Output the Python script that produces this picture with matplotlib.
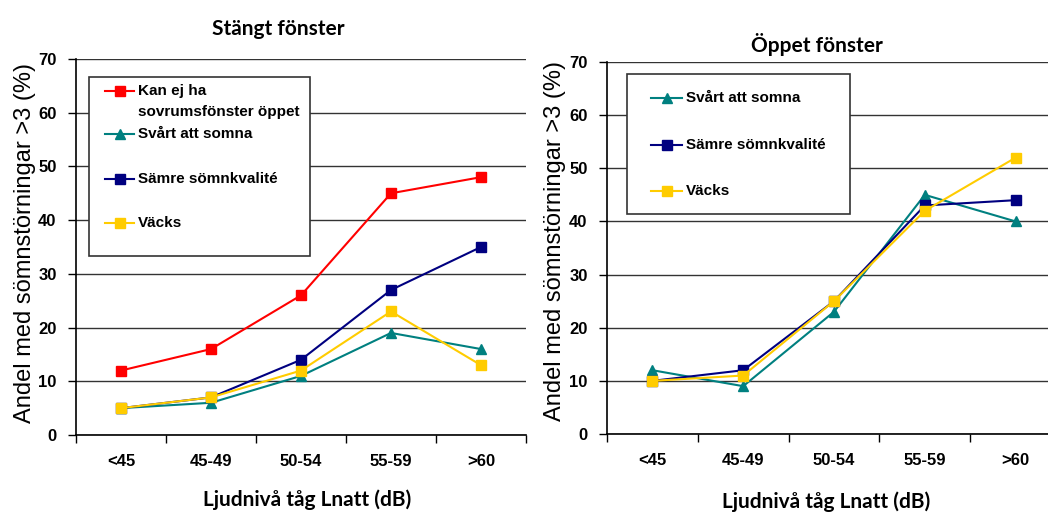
import matplotlib
matplotlib.use('Agg')
import matplotlib.pyplot as plt
from matplotlib.lines import Line2D
from matplotlib.patches import Rectangle

plt.rcParams['font.family'] = ['Liberation Sans', 'DejaVu Sans']

# data
categories = ['<45', '45-49', '50-54', '55-59', '>60']

closed_kan_ej = [12, 16, 26, 45, 48]
closed_svart = [5, 6, 11, 19, 16]
closed_samre = [5, 7, 14, 27, 35]
closed_vacks = [5, 7, 12, 23, 13]

open_svart = [12, 9, 23, 45, 40]
open_samre = [10, 12, 25, 43, 44]
open_vacks = [10, 11, 25, 42, 52]

yticks = [0, 10, 20, 30, 40, 50, 60, 70]

RED = '#FF0000'
TEAL = '#008080'
NAVY = '#000080'
YELLOW = '#FFCC00'

W, H = 1048, 522
TITLE_FONT = ['Lato', 'DejaVu Sans']
MS = 7


def style_axes(ax, xlab_xy, ylab_xy):
    ax.set_xlim(-0.5, len(categories) - 0.5)
    ax.set_ylim(0, 70)
    ax.set_yticks(yticks)
    ax.set_yticklabels([str(t) for t in yticks], fontsize=12, fontweight='bold')
    ax.set_xticks(list(range(len(categories))))
    ax.set_xticklabels(categories, fontsize=12, fontweight='bold')
    ax.tick_params(axis='x', length=0, pad=14)
    # category boundary ticks below the axis (excel style)
    ax.set_xticks([i - 0.5 for i in range(len(categories) + 1)], minor=True)
    ax.tick_params(axis='x', which='minor', length=6, direction='out', width=1)
    ax.tick_params(axis='y', length=6, direction='out', width=1, pad=8)
    for s in ['top', 'right']:
        ax.spines[s].set_visible(False)
    ax.spines['left'].set_linewidth(1.2)
    ax.spines['bottom'].set_linewidth(1.2)
    ax.yaxis.grid(True, color='#333333', linewidth=1)
    ax.set_axisbelow(True)
    ax.set_xlabel('Ljudnivå tåg Lnatt (dB)', fontsize=15, fontweight='bold',
                  family=TITLE_FONT)
    ax.xaxis.set_label_coords(*xlab_xy)
    ax.xaxis.label.set_va('center')
    ax.set_ylabel('Andel med sömnstörningar >3 (%)', fontsize=17)
    ax.yaxis.set_label_coords(*ylab_xy)
    ax.yaxis.label.set_va('center')


def px(x, y):
    return x / W, 1 - y / H


def draw_legend(fig, box, entries, hx0, hx1, tx):
    # box: (left, top, right, bottom) in pixels; entries: (line, label, y)
    l, t, r, b = box
    x0, y0 = px(l, b)
    x1, y1 = px(r, t)
    fig.patches.append(Rectangle((x0, y0), x1 - x0, y1 - y0, transform=fig.transFigure,
                                 facecolor='white', edgecolor='#333333', lw=1.2, zorder=5))
    for line, label, y in entries:
        yy = px(0, y)[1]
        fig.lines.append(Line2D([hx0 / W, hx1 / W], [yy, yy], transform=fig.transFigure,
                                color=line.get_color(), lw=1.5, zorder=6))
        fig.lines.append(Line2D([(hx0 + hx1) / 2 / W], [yy], transform=fig.transFigure,
                                color=line.get_color(), marker=line.get_marker(),
                                ms=MS, zorder=6))
        # multi-line labels: each line 21 px apart, handle on the first line
        for i, part in enumerate(label.split('\n')):
            fig.text(tx / W, px(0, y + 21 * i)[1], part, fontsize=11, fontweight='bold',
                     va='center', zorder=7)


fig = plt.figure(figsize=(10.48, 5.22), dpi=100)
ax1 = fig.add_axes([76 / W, 1 - 435 / H, 450 / W, 376 / H])
ax2 = fig.add_axes([607 / W, 1 - 434 / H, 454 / W, 372 / H])

x = range(len(categories))
l1 = ax1.plot(x, closed_kan_ej, color=RED, marker='s', ms=MS, lw=1.5)[0]
l2 = ax1.plot(x, closed_svart, color=TEAL, marker='^', ms=MS, lw=1.5)[0]
l3 = ax1.plot(x, closed_samre, color=NAVY, marker='s', ms=MS, lw=1.5)[0]
l4 = ax1.plot(x, closed_vacks, color=YELLOW, marker='s', ms=MS, lw=1.5)[0]
style_axes(ax1, ((307 - 76) / 450, (435 - 500) / 376), ((25 - 76) / 450, (435 - 243) / 376))
ax1.text((278 - 76) / 450, (435 - 29) / 376, 'Stängt fönster', fontsize=15, fontweight='bold',
         family=TITLE_FONT, ha='center', va='center', transform=ax1.transAxes)

r1 = ax2.plot(x, open_svart, color=TEAL, marker='^', ms=MS, lw=1.5)[0]
r2 = ax2.plot(x, open_samre, color=NAVY, marker='s', ms=MS, lw=1.5)[0]
r3 = ax2.plot(x, open_vacks, color=YELLOW, marker='s', ms=MS, lw=1.5)[0]
style_axes(ax2, ((826 - 607) / 454, (434 - 502) / 372), ((555 - 607) / 454, (434 - 241) / 372))
ax2.text((817 - 607) / 454, (434 - 44) / 372, 'Öppet fönster', fontsize=15, fontweight='bold',
         family=TITLE_FONT, ha='center', va='center', transform=ax2.transAxes)

draw_legend(fig, (89, 77, 310, 256),
            [(l1, 'Kan ej ha\nsovrumsfönster öppet', 91),
             (l2, 'Svårt att somna', 134),
             (l3, 'Sämre sömnkvalité', 179),
             (l4, 'Väcks', 223)],
            105, 134, 138)
draw_legend(fig, (627, 74, 850, 214),
            [(r1, 'Svårt att somna', 98),
             (r2, 'Sämre sömnkvalité', 145),
             (r3, 'Väcks', 191)],
            651, 682, 686)

fig.savefig('out.png', dpi=100)
